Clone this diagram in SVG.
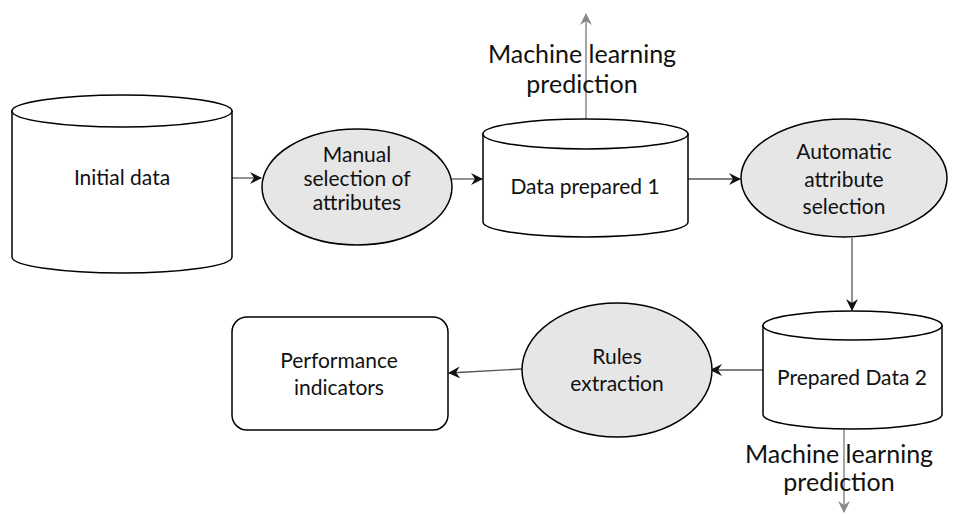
<svg xmlns="http://www.w3.org/2000/svg" width="953" height="514" viewBox="0 0 953 514">
<defs>
<style>
.cyl{fill:#fff;stroke:#000;stroke-width:1.5}
.ell{fill:#e6e6e6;stroke:#000;stroke-width:1.5}
.box{fill:#fff;stroke:#000;stroke-width:1.5}
.t{font-family:Lato,"Liberation Sans",sans-serif;font-size:21px;fill:#111;text-anchor:middle}
.ml{font-family:Lato,"Liberation Sans",sans-serif;font-size:25px;fill:#111;text-anchor:middle}
.c{fill:none;stroke:#555;stroke-width:1.3}
.g{fill:none;stroke:#888;stroke-width:1.5}
</style>
<marker id="ah" viewBox="0 0 12 12" refX="11" refY="6" markerWidth="12" markerHeight="12" markerUnits="userSpaceOnUse" orient="auto">
<path d="M0,0 L12,6 L0,12 L4,6 Z" fill="#111"/>
</marker>
<marker id="ahg" viewBox="0 0 12 12" refX="11" refY="6" markerWidth="12" markerHeight="12" markerUnits="userSpaceOnUse" orient="auto">
<path d="M0,0 L12,6 L0,12 L4,6 Z" fill="#888"/>
</marker>
</defs>

<g id="connectors">
<line class="c" x1="232" y1="178" x2="261" y2="178" marker-end="url(#ah)"/>
<line class="c" x1="452" y1="179" x2="482" y2="179" marker-end="url(#ah)"/>
<line class="c" x1="688" y1="179" x2="740" y2="179" marker-end="url(#ah)"/>
<line class="c" x1="852" y1="238" x2="852" y2="310" marker-end="url(#ah)"/>
<line class="c" x1="763" y1="370" x2="711" y2="370" marker-end="url(#ah)"/>
<line class="c" x1="522" y1="369" x2="449" y2="373" marker-end="url(#ah)"/>
<line class="g" x1="586" y1="119" x2="586" y2="14" marker-end="url(#ahg)"/>
<line class="g" x1="844" y1="429" x2="844" y2="512" marker-end="url(#ahg)"/>
</g>

<g id="initial-data">
<path class="cyl" d="M12,111 L12,257 A110,16 0 0 0 232,257 L232,111 Z"/>
<ellipse class="cyl" cx="122" cy="111" rx="110" ry="16"/>
<text class="t" x="122" y="185">Initial data</text>
</g>

<g id="manual-selection">
<ellipse class="ell" cx="357" cy="187" rx="95" ry="58"/>
<text class="t" x="357" y="162">Manual</text>
<text class="t" x="357" y="186">selection of</text>
<text class="t" x="357" y="210">attributes</text>
</g>

<g id="data-prepared-1">
<path class="cyl" d="M483,134 L483,222 A102.5,15 0 0 0 688,222 L688,134 Z"/>
<ellipse class="cyl" cx="585.5" cy="134" rx="102.5" ry="15"/>
<text class="t" x="585" y="194">Data prepared 1</text>
</g>

<g id="ml-label-1">
<text class="ml" x="582" y="63">Machine learning</text>
<text class="ml" x="582" y="93">prediction</text>
</g>

<g id="automatic-selection">
<ellipse class="ell" cx="844" cy="178" rx="103" ry="59"/>
<text class="t" x="844" y="159">Automatic</text>
<text class="t" x="844" y="187">attribute</text>
<text class="t" x="844" y="214">selection</text>
</g>

<g id="prepared-data-2">
<path class="cyl" d="M763,325.5 L763,414.5 A89.5,14.5 0 0 0 942,414.5 L942,325.5 Z"/>
<ellipse class="cyl" cx="852.5" cy="325.5" rx="89.5" ry="14.5"/>
<text class="t" x="852" y="385">Prepared Data 2</text>
</g>

<g id="ml-label-2">
<text class="ml" x="839" y="463">Machine learning</text>
<text class="ml" x="839" y="491">prediction</text>
</g>

<g id="rules-extraction">
<ellipse class="ell" cx="617" cy="370" rx="95" ry="67"/>
<text class="t" x="617" y="364">Rules</text>
<text class="t" x="617" y="391">extraction</text>
</g>

<g id="performance-indicators">
<rect class="box" x="232" y="317" width="216" height="113" rx="15"/>
<text class="t" x="339" y="368">Performance</text>
<text class="t" x="339" y="395">indicators</text>
</g>
</svg>
